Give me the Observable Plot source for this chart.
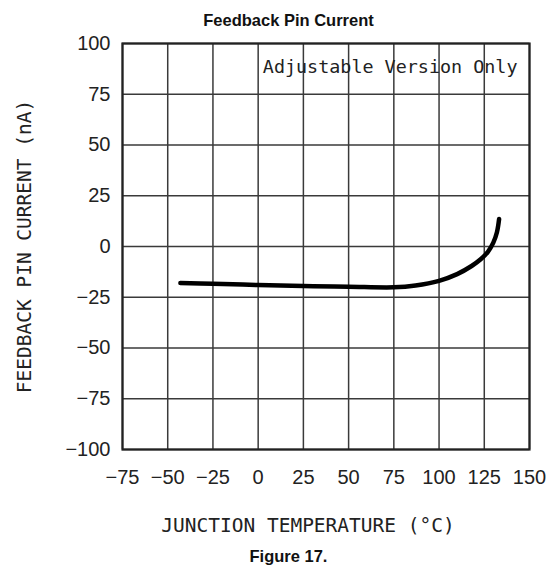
<!DOCTYPE html>
<html>
<head>
<meta charset="utf-8">
<script src="https://cdn.jsdelivr.net/npm/d3@7"></script>
<script src="https://cdn.jsdelivr.net/npm/@observablehq/plot@0.6"></script>
<style>
  html, body { margin: 0; padding: 0; background: #fff; }
  #wrap { width: 555px; position: relative; }
  .title, .caption {
    font-family: "Liberation Sans", Arial, sans-serif;
    font-weight: bold; font-size: 16.5px; line-height: 20px;
    color: #111; box-sizing: border-box; width: 555px;
    padding-left: 22px; text-align: center;
  }
  .title { height: 34px; padding-top: 10px; margin-bottom: -14px; }
  #chart { position: relative; }
  svg { display: block; }
</style>
</head>
<body>
<div id="wrap">
  <div class="title">Feedback Pin Current</div>
  <div id="chart"></div>
  <div class="caption">Figure 17.</div>
</div>
<script>
// Junction temperature (°C) and feedback pin current (nA)
const temperature = [-43, -25, 0, 25, 50, 75, 87, 100, 110, 118, 123, 127, 130, 132, 133.2];
const current     = [-18, -18.3, -19, -19.5, -19.8, -20.1, -19.2, -16.9, -13.6, -9.6, -6.3, -2.6, 1.9, 7.0, 13.5];
const xTicks = [-75, -50, -25, 0, 25, 50, 75, 100, 125, 150];
const yTicks = [-100, -75, -50, -25, 0, 25, 50, 75, 100];
const xTitle = "JUNCTION TEMPERATURE (°C)";
const yTitle = "FEEDBACK PIN CURRENT (nA)";
const note = "Adjustable Version Only";

const data = temperature.map((t, i) => ({t, v: current[i]}));
const fmt = d3.format("");
const mono = "'DejaVu Sans Mono', monospace";

const chart = Plot.plot({
  width: 555,
  height: 526,
  marginTop: 23,
  marginLeft: 122,
  marginRight: 26,
  marginBottom: 97,
  style: {fontFamily: "'Liberation Sans', Arial, sans-serif", color: "#222", background: "transparent"},
  x: {domain: [-75, 150]},
  y: {domain: [-100, 100]},
  marks: [
    Plot.gridX(xTicks, {stroke: "#3a3a3a", strokeOpacity: 1, strokeWidth: 1.5}),
    Plot.gridY(yTicks, {stroke: "#3a3a3a", strokeOpacity: 1, strokeWidth: 1.5}),
    Plot.frame({stroke: "#222", strokeWidth: 2.2}),
    Plot.axisX(xTicks, {tickSize: 0, tickPadding: 20, fontSize: 20, tickFormat: fmt, label: null}),
    Plot.axisY(yTicks, {tickSize: 0, tickPadding: 12, fontSize: 20, tickFormat: fmt, label: null}),
    Plot.line(data, {x: "t", y: "v", curve: "catmull-rom", stroke: "#000", strokeWidth: 4.5, strokeLinecap: "round"}),
    Plot.text([note], {frameAnchor: "top-right", dx: -12, dy: 16, lineAnchor: "top", text: d => d,
      fontFamily: mono, fontSize: 18.4, fill: "#222", className: "annot"}),
    Plot.text([xTitle], {frameAnchor: "bottom", dx: -18, dy: 82, text: d => d,
      fontFamily: mono, fontSize: 19.5, fill: "#222"}),
    Plot.text([yTitle], {frameAnchor: "left", textAnchor: "middle", dx: -98, rotate: -90, text: d => d,
      fontFamily: mono, fontSize: 19.5, fill: "#222"})
  ]
});
document.getElementById("chart").appendChild(chart);

// white background box behind the annotation (covers gridlines like the original)
const t = chart.querySelector(".annot text");
if (t) {
  const b = t.getBBox();
  const ns = "http://www.w3.org/2000/svg";
  const r = document.createElementNS(ns, "rect");
  r.setAttribute("x", b.x - 3);
  r.setAttribute("y", b.y - 5);
  r.setAttribute("width", b.width + 13);
  r.setAttribute("height", b.height + 8);
  r.setAttribute("fill", "#fff");
  const g = t.parentNode;
  g.insertBefore(r, t);
}
</script>
</body>
</html>
